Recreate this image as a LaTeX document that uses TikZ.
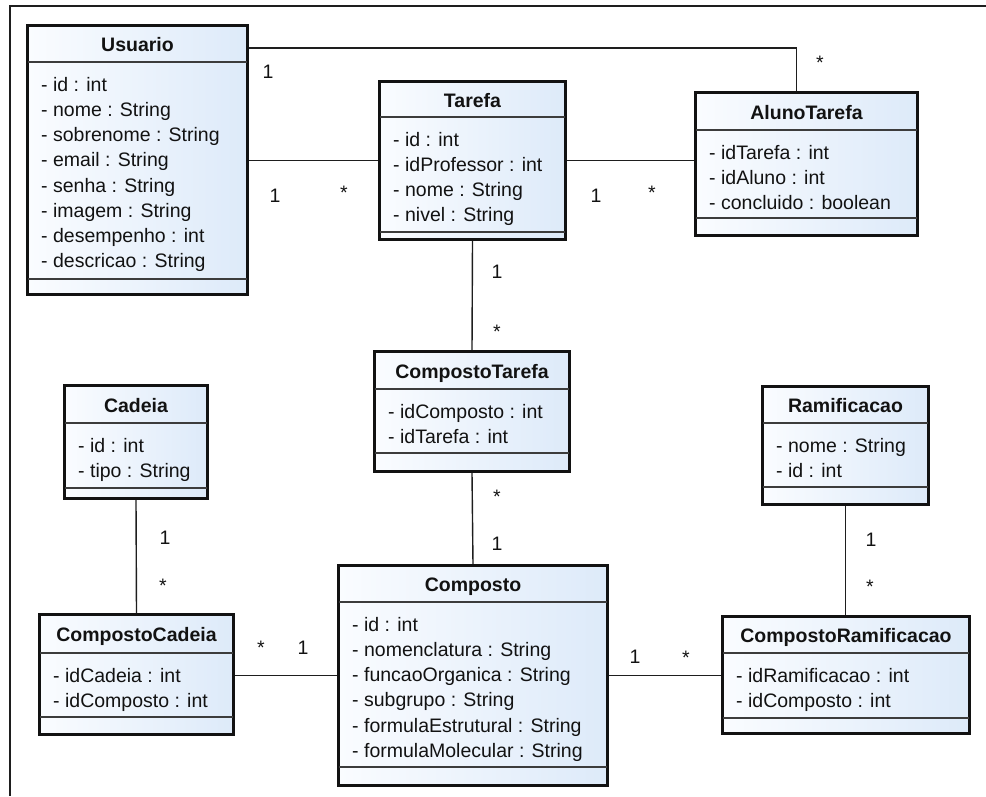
\documentclass[tikz,border=0pt]{standalone}
\usepackage{fontspec}
\setmainfont{Liberation Sans}

\definecolor{ink}{RGB}{18,18,18}
\definecolor{boxblue}{RGB}{221,234,249}
\definecolor{boxwhite}{RGB}{250,252,255}
\definecolor{sepgray}{RGB}{60,60,60}
\definecolor{wire}{RGB}{30,30,30}

\tikzset{
  classbox/.style={draw=ink, line width=3pt, left color=boxwhite, right color=boxblue, inner sep=0pt},
  sepline/.style={draw=sepgray, line width=1.6pt},
  classtitle/.style={anchor=base, inner sep=0pt, text=ink, font=\fontsize{19.5}{24}\selectfont\bfseries},
  classattr/.style={anchor=north west, inner sep=0pt, align=left, text=ink, font=\fontsize{19.5}{25.2}\selectfont},
  assoc/.style={draw=wire, line width=1.4pt},
  mult/.style={anchor=base, inner sep=0pt, text=ink, font=\fontsize{19.5}{24}\selectfont},
  frameline/.style={draw=wire, line width=1.4pt}
}

% #1 name, #2 left, #3 top, #4 right, #5 bottom, #6 title rule, #7 attribute rule, #8 title, #9 attributes
\newcommand\umlclass[9]{%
  \node[classbox, minimum width={(#4-#2-3)*1pt}, minimum height={(#5-#3-3)*1pt}]
    (#1) at ({(#2+#4)/2},{(#3+#5)/2}) {};
  \draw[sepline] ({#2+2},#6) -- ({#4-2},#6);
  \draw[sepline] ({#2+2},#7) -- ({#4-2},#7);
  \node[classtitle] (#1-title) at ({(#2+#4)/2},{(#3+#6)/2+8.5}) {#8};
  \node[classattr] (#1-attrs) at ({#2+15},{#6+11.4}) {\strut #9};
}

\begin{document}
\begin{tikzpicture}[x=1pt,y=-1pt]
\useasboundingbox (0,0) rectangle (986,796);

% page frame
\draw[frameline] (986,6) -- (10,6) -- (10,796);

% classes
\umlclass{Usuario}{26}{24}{249}{296}{62}{279}{Usuario}{%
  - id : int\\ - nome : String\\ - sobrenome : String\\ - email : String\\
  - senha : String\\ - imagem : String\\ - desempenho : int\\ - descricao : String}
\umlclass{Tarefa}{378}{80}{567}{241}{117}{232}{Tarefa}{%
  - id : int\\ - idProfessor : int\\ - nome : String\\ - nivel : String}
\umlclass{AlunoTarefa}{694}{91}{919}{237}{130}{218}{AlunoTarefa}{%
  - idTarefa : int\\ - idAluno : int\\ - concluido : boolean}
\umlclass{CompostoTarefa}{373}{350}{571}{473}{389}{453}{CompostoTarefa}{%
  - idComposto : int\\ - idTarefa : int}
\umlclass{Cadeia}{63}{384}{209}{500}{423}{488}{Cadeia}{%
  - id : int\\ - tipo : String}
\umlclass{Ramificacao}{761}{385}{930}{506}{423}{487}{Ramificacao}{%
  - nome : String\\ - id : int}
\umlclass{CompostoCadeia}{38}{613}{235}{736}{653}{717}{CompostoCadeia}{%
  - idCadeia : int\\ - idComposto : int}
\umlclass{Composto}{337}{564}{609}{787}{602}{767}{Composto}{%
  - id : int\\ - nomenclatura : String\\ - funcaoOrganica : String\\ - subgrupo : String\\
  - formulaEstrutural : String\\ - formulaMolecular : String}
\umlclass{CompostoRamificacao}{721}{615}{971}{735}{653}{718}{CompostoRamificacao}{%
  - idRamificacao : int\\ - idComposto : int}

% associations
\draw[assoc] ([yshift=-24pt]Usuario.north east) -| ([xshift=-10pt]AlunoTarefa.north);
\draw[assoc] (Tarefa.west) -- (Tarefa.west -| Usuario.east);
\draw[assoc] (Tarefa.east) -- (Tarefa.east -| AlunoTarefa.west);
\draw[assoc] (Tarefa.south) -- (CompostoTarefa.north);
\draw[assoc] (CompostoTarefa.south) -- (Composto.north);
\draw[assoc] (Cadeia.south) -- (CompostoCadeia.north);
\draw[assoc] (Ramificacao.south) -- (Ramificacao.south |- CompostoRamificacao.north);
\draw[assoc] (Composto.west) -- (Composto.west -| CompostoCadeia.east);
\draw[assoc] (Composto.east) -- (Composto.east -| CompostoRamificacao.west);

% multiplicities
\node[mult] (m-ua-1) at (268,78) {1};
\node[mult] (m-ua-n) at (820,69) {*};
\node[mult] (m-ut-1) at (275,202) {1};
\node[mult] (m-ut-n) at (344,199) {*};
\node[mult] (m-ta-1) at (596,202) {1};
\node[mult] (m-ta-n) at (652,199) {*};
\node[mult] (m-tc-1) at (497,278) {1};
\node[mult] (m-tc-n) at (497,338) {*};
\node[mult] (m-cc-n) at (497,503) {*};
\node[mult] (m-cc-1) at (497,550) {1};
\node[mult] (m-ca-1) at (165,544) {1};
\node[mult] (m-ca-n) at (163,592) {*};
\node[mult] (m-cd-n) at (261,654) {*};
\node[mult] (m-cd-1) at (303,654) {1};
\node[mult] (m-cr-1) at (635,663) {1};
\node[mult] (m-cr-n) at (686,664) {*};
\node[mult] (m-ra-1) at (871,546) {1};
\node[mult] (m-ra-n) at (870,593) {*};
\end{tikzpicture}
\end{document}
